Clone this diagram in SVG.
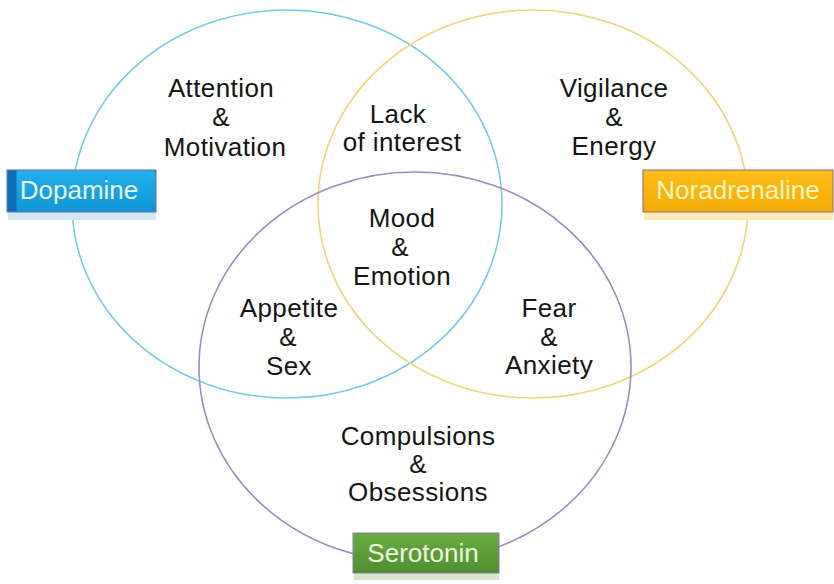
<svg xmlns="http://www.w3.org/2000/svg" width="834" height="584" viewBox="0 0 834 584">
<style>
.t{font-family:"Liberation Sans",Arial,sans-serif;font-size:26px;letter-spacing:0.4px;fill:#151515;text-anchor:middle}
.lb{font-family:"Liberation Sans",Arial,sans-serif;font-size:26px;text-anchor:middle}
.c{fill:none;stroke-width:1.6}
</style>
<defs>
<linearGradient id="gb" x1="0" y1="0" x2="0" y2="1"><stop offset="0" stop-color="#22b0ea"/><stop offset="1" stop-color="#0f95d6"/></linearGradient>
<linearGradient id="go" x1="0" y1="0" x2="0" y2="1"><stop offset="0" stop-color="#fdbf1a"/><stop offset="1" stop-color="#f4ab06"/></linearGradient>
<linearGradient id="gg" x1="0" y1="0" x2="0" y2="1"><stop offset="0" stop-color="#6aac42"/><stop offset="1" stop-color="#4f8e2e"/></linearGradient>
</defs>
<rect width="834" height="584" fill="#fff"/>
<g id="connectors">
<ellipse id="c-dopamine" class="c" cx="287" cy="204" rx="215" ry="194" stroke="#7cc9ea"/>
<ellipse id="c-noradrenaline" class="c" cx="533" cy="204" rx="215" ry="194" stroke="#f1d57c"/>
<ellipse id="c-serotonin" class="c" cx="415" cy="367" rx="216" ry="195" stroke="#9f8ac4"/>
</g>
<g id="dopamine">
<rect x="8" y="212" width="148" height="8" fill="#cfe9f7"/>
<rect x="7" y="170" width="149" height="42" fill="url(#gb)" stroke="#7a66a8" stroke-width="1"/>
<rect x="7.5" y="170.5" width="9" height="41" fill="#0d6fb0"/>
<text class="lb" x="79" y="199" fill="#e6f7ff">Dopamine</text>
</g>
<g id="noradrenaline">
<rect x="644" y="212" width="189" height="8" fill="#fbe9b8"/>
<rect x="643" y="170" width="190" height="42" fill="url(#go)" stroke="#8a6a7a" stroke-width="1"/>
<text class="lb" x="738" y="199" fill="#fff4bf">Noradrenaline</text>
</g>
<g id="serotonin">
<rect x="354" y="573" width="145" height="7" fill="#d6e6cb"/>
<rect x="353" y="533" width="146" height="40" fill="url(#gg)" stroke="#8a7aa8" stroke-width="1"/>
<text class="lb" x="423" y="562" fill="#edf8dc">Serotonin</text>
</g>
<g id="attention">
<text class="t" x="221" y="97">Attention</text>
<text class="t" x="221" y="126">&amp;</text>
<text class="t" x="225" y="156">Motivation</text>
</g>
<g id="lack">
<text class="t" x="398" y="123">Lack</text>
<text class="t" x="402" y="151">of interest</text>
</g>
<g id="vigilance">
<text class="t" x="614" y="97">Vigilance</text>
<text class="t" x="614" y="126">&amp;</text>
<text class="t" x="614" y="155">Energy</text>
</g>
<g id="mood">
<text class="t" x="402" y="227">Mood</text>
<text class="t" x="400" y="256">&amp;</text>
<text class="t" x="402" y="285">Emotion</text>
</g>
<g id="appetite">
<text class="t" x="289" y="317">Appetite</text>
<text class="t" x="288" y="346">&amp;</text>
<text class="t" x="289" y="375">Sex</text>
</g>
<g id="fear">
<text class="t" x="549" y="317">Fear</text>
<text class="t" x="549" y="346">&amp;</text>
<text class="t" x="549" y="374">Anxiety</text>
</g>
<g id="compulsions">
<text class="t" x="418" y="445">Compulsions</text>
<text class="t" x="418" y="473">&amp;</text>
<text class="t" x="418" y="501">Obsessions</text>
</g>
</svg>
